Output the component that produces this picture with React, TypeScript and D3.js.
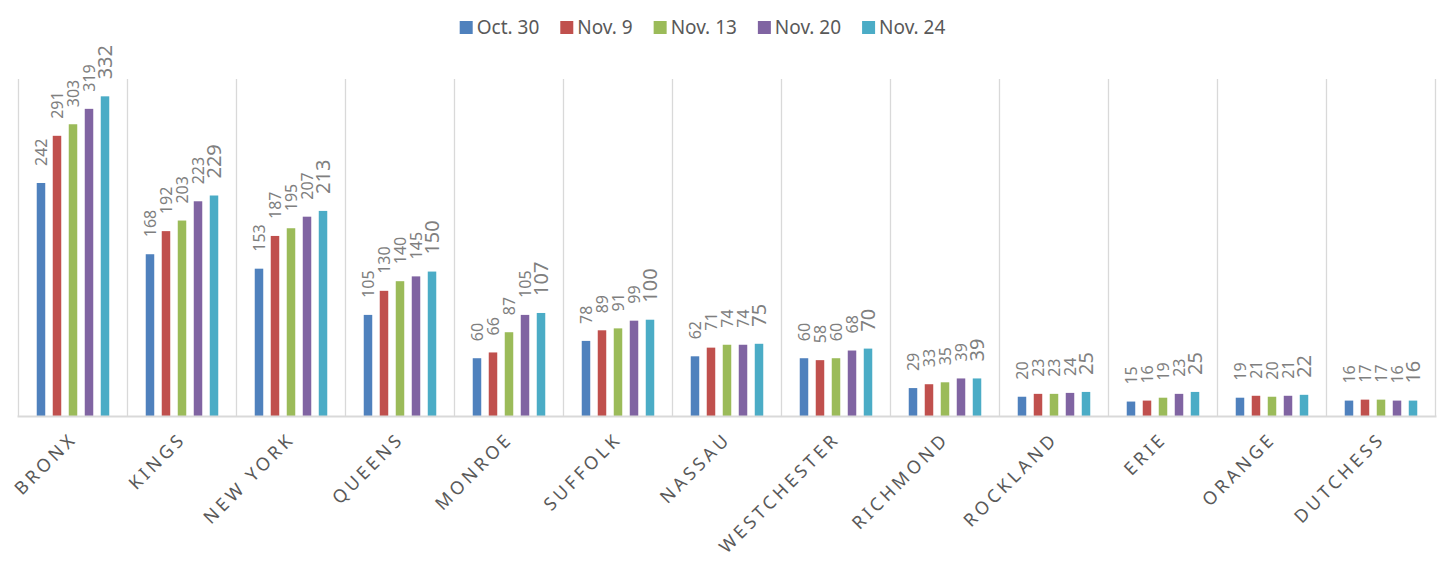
import React, { useEffect, useRef } from "react";
import * as d3 from "d3";

const counties = ["BRONX", "KINGS", "NEW YORK", "QUEENS", "MONROE", "SUFFOLK", "NASSAU", "WESTCHESTER", "RICHMOND", "ROCKLAND", "ERIE", "ORANGE", "DUTCHESS"];
const seriesNames = ["Oct. 30", "Nov. 9", "Nov. 13", "Nov. 20", "Nov. 24"];
const seriesColors = ["#4F81BD", "#C0504D", "#9BBB59", "#8064A2", "#4BACC6"];
const oct30 = [242, 168, 153, 105, 60, 78, 62, 60, 29, 20, 15, 19, 16];
const nov9 = [291, 192, 187, 130, 66, 89, 71, 58, 33, 23, 16, 21, 17];
const nov13 = [303, 203, 195, 140, 87, 91, 74, 60, 35, 23, 19, 20, 17];
const nov20 = [319, 223, 207, 145, 105, 99, 74, 68, 39, 24, 23, 21, 16];
const nov24 = [332, 229, 213, 150, 107, 100, 75, 70, 39, 25, 25, 22, 16];
const seriesValues = [oct30, nov9, nov13, nov20, nov24];
const yMax = 350;

const W = 1453;
const H = 571;
const FONT = "'Noto Sans', sans-serif";

export default function App() {
  const ref = useRef<SVGSVGElement | null>(null);

  useEffect(() => {
    document.body.style.margin = "0";
    const svg = d3.select(ref.current);
    svg.selectAll("*").remove();

    const left = 18.5, right = 1435.5, top = 79, bottom = 416;
    const x0 = d3.scaleBand<string>().domain(counties).range([left, right]).paddingInner(0).paddingOuter(0);
    const x1 = d3.scaleBand<string>().domain(seriesNames).range([0, x0.bandwidth()]).paddingInner(0.469).paddingOuter(1.14);
    const y = d3.scaleLinear().domain([0, yMax]).range([bottom, top]);

    // vertical gridlines at category boundaries
    const bounds = counties.map((c) => x0(c) as number).concat([right]);
    svg.append("g").selectAll("line").data(bounds).join("line")
      .attr("x1", (d) => d).attr("x2", (d) => d)
      .attr("y1", top).attr("y2", bottom)
      .attr("stroke", "#d9d9d9").attr("stroke-width", 1.3);

    // bars
    const g = svg.append("g");
    seriesNames.forEach((s, si) => {
      const vals = seriesValues[si];
      g.append("g").selectAll("rect").data(vals).join("rect")
        .attr("x", (_, i) => (x0(counties[i]) as number) + (x1(s) as number))
        .attr("y", (d) => y(d))
        .attr("width", x1.bandwidth())
        .attr("height", (d) => bottom - y(d))
        .attr("fill", seriesColors[si]);
    });

    // axis line
    svg.append("line").attr("x1", left - 1).attr("x2", right + 1).attr("y1", bottom + 0.5).attr("y2", bottom + 0.5)
      .attr("stroke", "#d9d9d9").attr("stroke-width", 1.8);

    // data labels
    seriesNames.forEach((s, si) => {
      const vals = seriesValues[si];
      const big = si === seriesNames.length - 1;
      g.append("g").selectAll("text").data(vals).join("text")
        .attr("transform", (d, i) => {
          const cx = (x0(counties[i]) as number) + (x1(s) as number) + x1.bandwidth() / 2;
          return `translate(${cx},${y(d) - 17}) rotate(-90)`;
        })
        .attr("dy", "0.36em")
        .attr("text-anchor", "start")
        .attr("font-family", FONT)
        .attr("font-size", big ? 20 : 16)
        .attr("fill", "#7f7f7f")
        .text((d) => String(d));
    });

    // x axis labels
    svg.append("g").selectAll("text").data(counties).join("text")
      .attr("transform", (d) => `translate(${(x0(d) as number) + x0.bandwidth() / 2 + 5},${bottom + 24}) rotate(-45)`)
      .attr("text-anchor", "end")
      .attr("font-family", FONT)
      .attr("font-size", 18)
      .attr("letter-spacing", 3.6)
      .attr("fill", "#595959")
      .text((d) => d);

    // legend
    const lg = svg.append("g");
    const items = lg.selectAll("g").data(seriesNames).join("g");
    items.append("rect").attr("width", 13).attr("height", 13).attr("y", 21)
      .attr("fill", (_, i) => seriesColors[i]);
    items.append("text").attr("x", 17).attr("y", 34)
      .attr("font-family", FONT).attr("font-size", 19).attr("fill", "#595959")
      .text((d) => d);
    let cur = 0;
    const offs: number[] = [];
    items.each(function () {
      offs.push(cur);
      const t = d3.select(this).select("text").node() as SVGTextElement;
      cur += 17 + t.getComputedTextLength() + 21;
    });
    const total = cur - 21;
    const start = 702.5 - total / 2;
    items.attr("transform", (_, i) => `translate(${start + offs[i]},0)`);
  }, []);

  return <svg ref={ref} width={W} height={H} style={{ display: "block", background: "#fff" }} />;
}
